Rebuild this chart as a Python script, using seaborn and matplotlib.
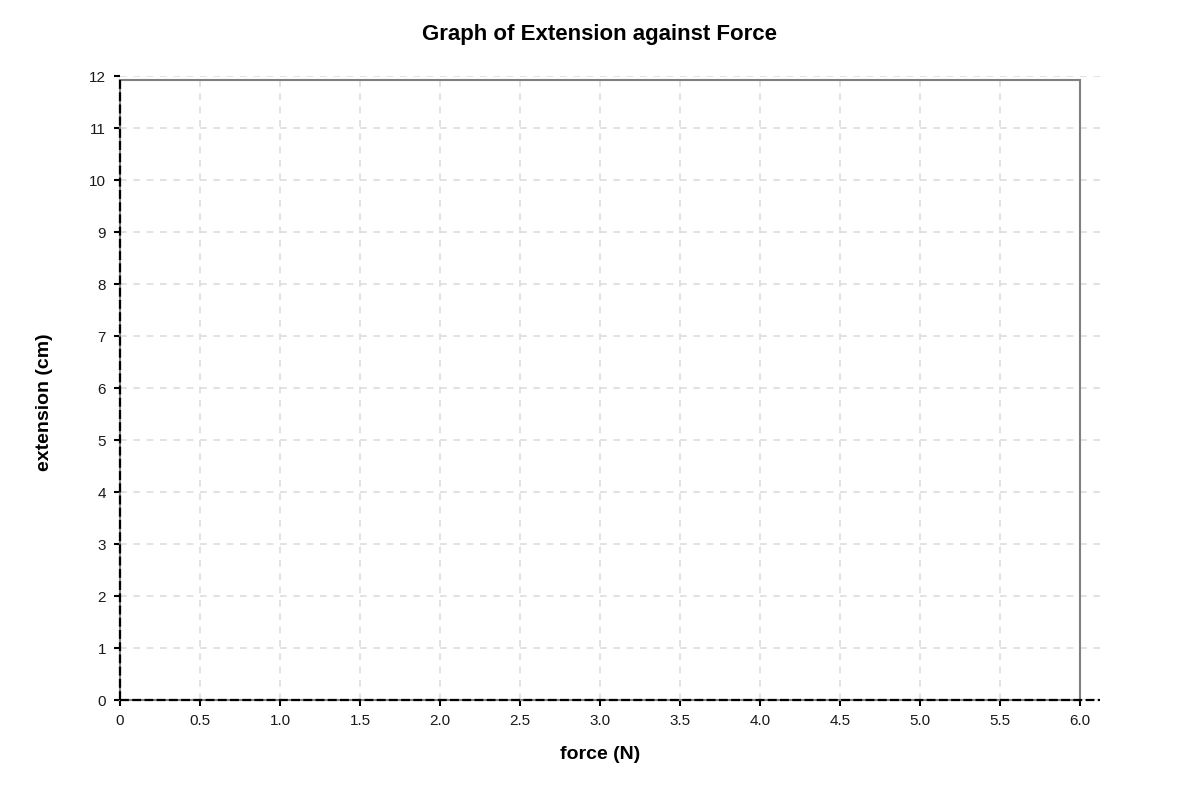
import matplotlib
matplotlib.use("Agg")
import matplotlib.pyplot as plt
import seaborn as sns
from matplotlib.patches import Rectangle

# Data (the reference chart contains no plotted points)
force = []
extension = []

x_ticks = [0, 0.5, 1.0, 1.5, 2.0, 2.5, 3.0, 3.5, 4.0, 4.5, 5.0, 5.5, 6.0]
x_tick_labels = ["0", "0.5", "1.0", "1.5", "2.0", "2.5", "3.0", "3.5", "4.0", "4.5", "5.0", "5.5", "6.0"]
y_ticks = [0, 1, 2, 3, 4, 5, 6, 7, 8, 9, 10, 11, 12]
y_tick_labels = [str(v) for v in y_ticks]

title = "Graph of Extension against Force"
x_label = "force (N)"
y_label = "extension (cm)"

x_limits = (0, 6.125)
y_limits = (0, 12)
frame_x_max = 6.0
frame_y_max = 11.92

sns.set_theme(style="white")
plt.rcParams["font.family"] = ["Liberation Sans", "DejaVu Sans"]

fig = plt.figure(figsize=(12, 8), dpi=100)
ax = fig.add_axes([0.1, 0.125, 0.8167, 0.78])

sns.scatterplot(x=force, y=extension, ax=ax)

ax.set_xlim(*x_limits)
ax.set_ylim(*y_limits)
ax.set_xticks(x_ticks)
ax.set_xticklabels(x_tick_labels, fontsize=11, color="#1a1a1a")
ax.set_yticks(y_ticks)
ax.set_yticklabels(y_tick_labels, fontsize=11, color="#1a1a1a")

for s in ax.spines.values():
    s.set_visible(False)

ax.grid(True, color="#dddddd", linestyle=(0, (4, 4)), linewidth=1.2)
ax.set_axisbelow(True)

ax.tick_params(axis="both", which="both", direction="out", length=4, width=1.5,
               color="black", left=True, bottom=True, pad=6)

# frame box
ax.add_patch(Rectangle((0, 0), frame_x_max, frame_y_max, fill=False,
                       edgecolor="#808080", linewidth=1.5, zorder=2, clip_on=False))
# dashed axis lines
ax.axhline(0, color="black", linestyle=(0, (4, 1.5)), linewidth=1.6, zorder=3, clip_on=False)
ax.plot([0, 0], [0, frame_y_max], color="black", linestyle=(0, (4, 1.5)), linewidth=1.6,
        zorder=3, clip_on=False)

ax.set_xlabel(x_label, fontsize=14, fontweight="bold", labelpad=13, color="black")
ax.xaxis.label.set_x(0.4898)
ax.set_ylabel(y_label, fontsize=14, fontweight="bold", labelpad=26, color="black")
ax.yaxis.label.set_y(0.478)
fig.suptitle(title, fontsize=16, fontweight="bold", y=0.97, color="black")

fig.savefig("out.png", dpi=100)
